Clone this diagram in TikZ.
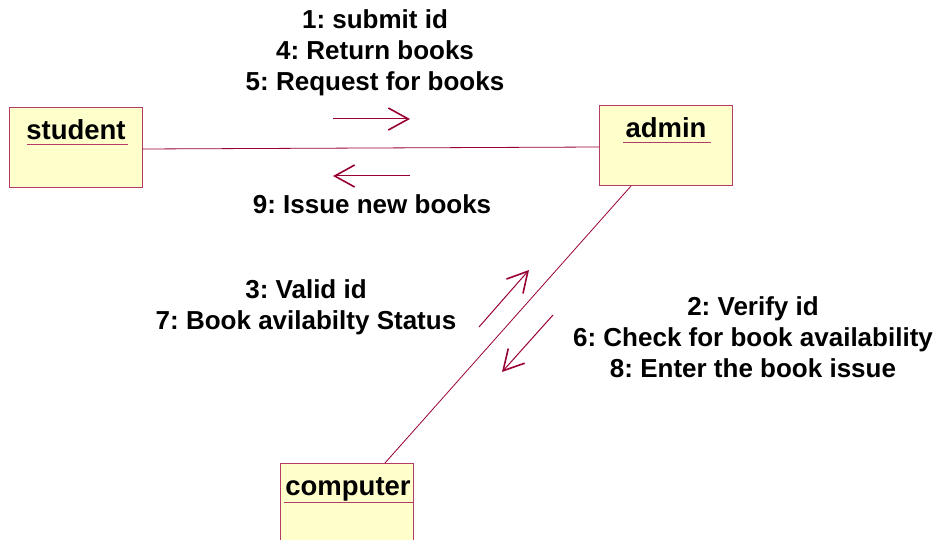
\documentclass[tikz,border=0pt]{standalone}
\usepackage{fontspec}
\setmainfont{Liberation Sans}
\frenchspacing
\usetikzlibrary{arrows.meta}
\definecolor{boxfill}{RGB}{255,255,204}
\definecolor{boxline}{RGB}{180,60,105}
\definecolor{linkc}{RGB}{153,0,51}
\tikzset{
  cls/.style={draw=boxline, fill=boxfill, line width=0.9pt, minimum width=133pt, anchor=north west, inner sep=0pt},
  cname/.style={font=\fontsize{27.5}{31}\selectfont\bfseries, inner sep=0pt},
  lbl/.style={font=\fontsize{26}{31}\selectfont\bfseries, align=center, inner sep=0pt},
  link/.style={draw=linkc, line width=0.8pt},
  msg/.style={draw=linkc, line width=1pt, -{Straight Barb[length=20pt,width=22pt,line width=1.6pt]}},
  uline/.style={draw=boxline, line width=1pt}
}
\begin{document}
\begin{tikzpicture}[x=1pt,y=-1pt]
\useasboundingbox (0,0) rectangle (942,540);
\clip (0,0) rectangle (942,540);
% classes
\node[cls, minimum height=80pt] (student) at (9,107) {};
\node[cls, minimum height=80pt] (admin) at (599,105) {};
\node[cls, minimum height=100pt] (computer) at (280,463) {};
\node[cname] (studentt) at (76,130) {student};
\node[cname] (admint) at (666,128) {admin};
\node[cname] (computert) at (348,489) {computer};
\draw[uline] (27,145) -- (128,145);
\draw[uline] (623,143) -- (711,143);
\draw[uline] (284,502) -- (413,502);
% links
\coordinate (sa1) at (142,149);
\coordinate (sa2) at (599,147);
\draw[link] (sa1) -- (sa2);
\coordinate (ac1) at (631,186);
\coordinate (ac2) at (385,463);
\draw[link] (ac1) -- (ac2);
% messages
\coordinate (m1a) at (333,119); \coordinate (m1b) at (410,119);
\draw[msg] (m1a) -- (m1b);
\coordinate (m2a) at (410,176); \coordinate (m2b) at (333,176);
\draw[msg] (m2a) -- (m2b);
\coordinate (m3a) at (479,327); \coordinate (m3b) at (529,270);
\draw[msg] (m3a) -- (m3b);
\coordinate (m4a) at (553,315); \coordinate (m4b) at (502,372);
\draw[msg] (m4a) -- (m4b);
% labels
\node[lbl] (l1) at (375,53) {1: submit id\\4: Return books\\5: Request for books};
\node[lbl] (l2) at (372,204) {9: Issue new books};
\node[lbl] (l3) at (306,307) {3: Valid id\\7: Book avilabilty Status};
\node[lbl] (l4) at (753,337) {2: Verify id\\6: Check for book availability\\8: Enter the book issue};
\end{tikzpicture}
\end{document}
